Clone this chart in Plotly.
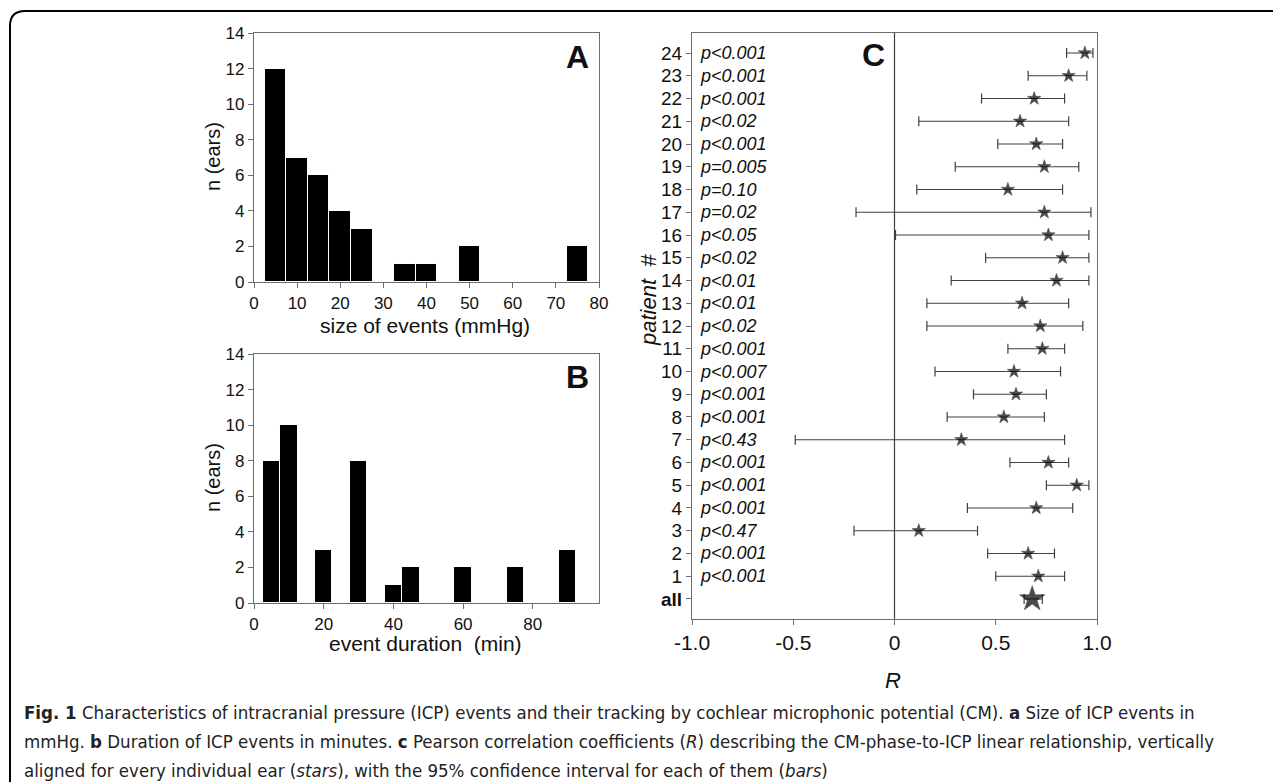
import plotly.graph_objects as go

# ---------------- data ----------------
size_bins = [5, 10, 15, 20, 25, 30, 35, 40, 45, 50, 55, 60, 65, 70, 75]
size_counts = [12, 7, 6, 4, 3, 0, 1, 1, 0, 2, 0, 0, 0, 0, 2]

dur_bins = [5, 10, 20, 30, 40, 45, 60, 75, 90]
dur_counts = [8, 10, 3, 8, 1, 2, 2, 2, 3]

patients = ["all"] + [str(i) for i in range(1, 25)]
r_vals = [0.68, 0.71, 0.66, 0.12, 0.70, 0.90, 0.76, 0.33, 0.54, 0.60, 0.59, 0.73, 0.72,
          0.63, 0.80, 0.83, 0.76, 0.74, 0.56, 0.74, 0.70, 0.62, 0.69, 0.86, 0.94]
ci_lo = [0.64, 0.50, 0.46, -0.20, 0.36, 0.75, 0.57, -0.49, 0.26, 0.39, 0.20, 0.56, 0.16,
         0.16, 0.28, 0.45, 0.005, -0.19, 0.11, 0.30, 0.51, 0.12, 0.43, 0.66, 0.85]
ci_hi = [0.73, 0.84, 0.79, 0.41, 0.88, 0.96, 0.86, 0.84, 0.74, 0.75, 0.82, 0.84, 0.93,
         0.86, 0.96, 0.96, 0.96, 0.97, 0.83, 0.91, 0.83, 0.86, 0.84, 0.95, 0.98]
p_texts = ["p<0.001", "p<0.001", "p<0.47", "p<0.001", "p<0.001", "p<0.001", "p<0.43",
           "p<0.001", "p<0.001", "p<0.007", "p<0.001", "p<0.02", "p<0.01", "p<0.01",
           "p<0.02", "p<0.05", "p=0.02", "p=0.10", "p=0.005", "p<0.001", "p<0.02",
           "p<0.001", "p<0.001", "p<0.001"]

# page body has an 8px margin: the figure is placed at (8, 8)
OFF = 8
W, H = 1281 - OFF, 782 - OFF
def px(x): return (x - OFF) / W
def py(y): return 1 - (y - OFF) / H

FONT = "Liberation Sans, Arial, sans-serif"
CAPFONT = "Liberation Sans Narrow, DejaVu Sans Condensed, Roboto Condensed, Arial Narrow, DejaVu Sans, sans-serif"
AX = "#6e6e6e"

fig = go.Figure()

# Panel A
fig.add_trace(go.Bar(x=size_bins, y=size_counts, width=5, marker=dict(color="black", line=dict(color="white", width=1)),
                     xaxis="x", yaxis="y", showlegend=False))
# Panel B
fig.add_trace(go.Bar(x=dur_bins, y=dur_counts, width=5, marker=dict(color="black", line=dict(color="white", width=1)),
                     xaxis="x2", yaxis="y2", showlegend=False))

# Panel C: confidence bars, then stars on top
ypos = list(range(len(patients)))
err_plus = [h - r for h, r in zip(ci_hi, r_vals)]
err_minus = [r - l for r, l in zip(r_vals, ci_lo)]
fig.add_trace(go.Scatter(x=r_vals, y=ypos, mode="markers",
                         marker=dict(color="rgba(0,0,0,0)", size=2),
                         error_x=dict(type="data", symmetric=False, array=err_plus, arrayminus=err_minus,
                                      width=5, thickness=1.2, color="#404040"),
                         xaxis="x3", yaxis="y3", showlegend=False))
sizes = [19] + [10] * 24
fig.add_trace(go.Scatter(x=r_vals, y=ypos, mode="markers",
                         marker=dict(symbol="star", color="black", size=sizes, line=dict(width=0.6, color="black")),
                         xaxis="x3", yaxis="y3", showlegend=False))

common = dict(showgrid=False, zeroline=False, showline=True, linecolor=AX, linewidth=1.2, mirror=True,
              automargin=False,
              ticks="outside", ticklen=5, tickcolor=AX, tickfont=dict(family=FONT, size=17, color="#111"))

fig.update_layout(
    width=W, height=H, margin=dict(l=0, r=0, t=0, b=0, autoexpand=False),
    paper_bgcolor="white", plot_bgcolor="white", bargap=0,
    xaxis=dict(domain=[px(254), px(599)], range=[0, 80], dtick=10, anchor="y", **common),
    yaxis=dict(domain=[py(282), py(33)], range=[0, 14], dtick=2, anchor="x", **common),
    xaxis2=dict(domain=[px(254), px(599)], range=[0, 99], tickvals=[0, 20, 40, 60, 80], anchor="y2", **common),
    yaxis2=dict(domain=[py(603), py(354)], range=[0, 14], dtick=2, anchor="x2", **common),
    xaxis3=dict(domain=[px(692), px(1097)], range=[-1, 1], tickvals=[-1, -0.5, 0, 0.5, 1],
                ticktext=["-1.0", "-0.5", "0", "0.5", "1.0"], anchor="y3",
                **{**common, "tickfont": dict(family=FONT, size=21, color="#111")}),
    yaxis3=dict(domain=[py(619), py(33)], range=[-0.88, 24.88], tickvals=ypos,
                ticktext=["<b>all</b>"] + patients[1:], anchor="x3",
                **{**common, "tickfont": dict(family=FONT, size=19, color="#111")}),
)

# zero line in panel C
fig.add_shape(type="line", xref="x3", yref="paper", x0=0, x1=0, y0=py(619), y1=py(33),
              line=dict(color="#404040", width=1.2))

# frame
fig.add_shape(type="path", xref="paper", yref="paper",
              path=f"M {px(10)},{py(830)} L {px(10)},{py(26)} Q {px(10)},{py(11)} {px(25)},{py(11)} L {px(1300)},{py(11)}",
              line=dict(color="black", width=2))

ann = []
def A(x, y, text, size, **kw):
    d = dict(x=px(x), y=py(y), xref="paper", yref="paper", text=text, showarrow=False,
             xanchor=kw.pop("xanchor", "center"), yanchor="middle",
             font=dict(family=kw.pop("family", FONT), size=size, color=kw.pop("color", "#111")))
    d.update(kw)
    ann.append(d)

# panel labels
A(577, 57, "<b>A</b>", 32)
A(577, 377, "<b>B</b>", 32)
A(873, 55, "<b>C</b>", 32)
# axis titles
A(213, 157, "n (ears)", 20, textangle=-90)
A(213, 478, "n (ears)", 20, textangle=-90)
A(425, 325, "size of events (mmHg)", 21)
A(425, 643, "event duration  (min)", 21)
A(649, 300, "<i>patient  #</i>", 22, textangle=-90)
A(893, 680, "<i>R</i>", 22)

# p-value annotations
for i, t in enumerate(p_texts):
    ann.append(dict(x=-0.97, y=i + 1, xref="x3", yref="y3", xanchor="left", yanchor="middle", showarrow=False,
                    text="<i>" + t.replace("<", "&lt;") + "</i>",
                    font=dict(family=FONT, size=18, color="#111")))

# caption
cap = [
    "<b>Fig. 1</b> Characteristics of intracranial pressure (ICP) events and their tracking by cochlear microphonic potential (CM). <b>a</b> Size of ICP events in",
    "mmHg. <b>b</b> Duration of ICP events in minutes. <b>c</b> Pearson correlation coefficients (<i>R</i>) describing the CM-phase-to-ICP linear relationship, vertically",
    "aligned for every individual ear (<i>stars</i>), with the 95% confidence interval for each of them (<i>bars</i>)",
]
for i, line in enumerate(cap):
    A(22, 712 + i * 29, line, 18.5, family=CAPFONT, xanchor="left", color="#222")

fig.update_layout(annotations=ann)
fig.write_html("out.html")
